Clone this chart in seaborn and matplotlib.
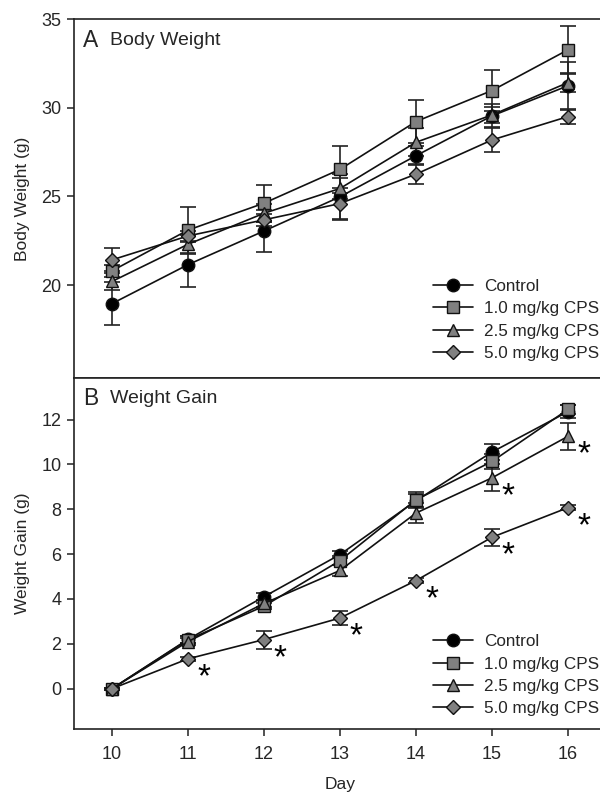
import numpy as np
import pandas as pd
import matplotlib
matplotlib.use("Agg")
import matplotlib.pyplot as plt
import seaborn as sns

# data
days = [10, 11, 12, 13, 14, 15, 16]
groups = ["Control", "1.0 mg/kg CPS", "2.5 mg/kg CPS", "5.0 mg/kg CPS"]

bw_control = [18.95, 21.15, 23.05, 24.98, 27.3, 29.55, 31.25]
bw_control_err = [1.22, 1.27, 1.17, 1.3, 0.55, 0.65, 1.35]
bw_cps10 = [20.8, 23.1, 24.62, 26.53, 29.23, 30.98, 33.28]
bw_cps10_err = [0.35, 1.32, 1.05, 1.32, 1.19, 1.17, 1.36]
bw_cps25 = [20.2, 22.3, 24.05, 25.45, 28.06, 29.6, 31.43]
bw_cps25_err = [0.5, 0.55, 0.5, 0.6, 0.8, 0.45, 0.55]
bw_cps50 = [21.42, 22.77, 23.68, 24.6, 26.26, 28.19, 29.51]
bw_cps50_err = [0.65, 0.3, 0.35, 0.9, 0.57, 0.7, 0.4]

wg_control = [0, 2.2, 4.1, 5.98, 8.38, 10.55, 12.35]
wg_control_err = [0.05, 0.15, 0.15, 0.15, 0.3, 0.37, 0.3]
wg_cps10 = [0, 2.18, 3.68, 5.71, 8.42, 10.13, 12.45]
wg_cps10_err = [0.05, 0.15, 0.15, 0.2, 0.35, 0.35, 0.2]
wg_cps25 = [0, 2.1, 3.8, 5.27, 7.83, 9.4, 11.25]
wg_cps25_err = [0.05, 0.15, 0.15, 0.25, 0.45, 0.6, 0.6]
wg_cps50 = [0, 1.33, 2.19, 3.15, 4.82, 6.75, 8.07]
wg_cps50_err = [0.05, 0.1, 0.4, 0.3, 0.1, 0.37, 0.1]

# significant days (asterisks) in panel B
sig_cps25 = [15, 16]
sig_cps50 = [11, 12, 13, 14, 15, 16]

sns.set_style("ticks")
plt.rcParams["font.family"] = ["Liberation Sans", "DejaVu Sans"]

markers = ["o", "s", "^", "D"]
faces = ["black", "#808080", "#808080", "#808080"]
msizes = [9, 8.3, 9.2, 7.5]


def draw_panel(ax, values, errors):
    for g, m, fc, ms, v, e in zip(groups, markers, faces, msizes, values, errors):
        df = pd.DataFrame({"Day": days, "val": v})
        ax.errorbar(days, v, yerr=e, fmt="none", ecolor="#222222",
                    elinewidth=1.2, capsize=5.5, capthick=1.2, zorder=2)
        sns.lineplot(data=df, x="Day", y="val", ax=ax, color="#111111",
                     lw=1.2, marker=m, markersize=ms, markerfacecolor=fc,
                     markeredgecolor="#111111", markeredgewidth=1.0,
                     label=g, zorder=3)
    leg = ax.legend(frameon=False, fontsize=12.3, handlelength=2.34,
                    handletextpad=0.64, labelspacing=0.43, borderpad=0,
                    borderaxespad=0, loc="upper left")
    return leg


fig = plt.figure(figsize=(6, 7.92), dpi=100)
ax1 = fig.add_axes([0.1233, 0.5227, 0.8867, 0.4529])
ax2 = fig.add_axes([0.1233, 0.0795, 0.8867, 0.4432])

leg1 = draw_panel(ax1, [bw_control, bw_cps10, bw_cps25, bw_cps50],
                  [bw_control_err, bw_cps10_err, bw_cps25_err, bw_cps50_err])
leg1.set_bbox_to_anchor((0.7217, 0.6478), transform=fig.transFigure)

leg2 = draw_panel(ax2, [wg_control, wg_cps10, wg_cps25, wg_cps50],
                  [wg_control_err, wg_cps10_err, wg_cps25_err, wg_cps50_err])
leg2.set_bbox_to_anchor((0.7217, 0.1993), transform=fig.transFigure)

# asterisks for significance
for sig, vals in [(sig_cps25, wg_cps25), (sig_cps50, wg_cps50)]:
    for d in sig:
        ax2.annotate("*", xy=(d, vals[days.index(d)]), xytext=(11.5, -13.5),
                     textcoords="offset points", fontsize=24,
                     ha="center", va="center", color="black")

for ax in (ax1, ax2):
    ax.set_xlim(9.5, 16.5)
    for s in ax.spines.values():
        s.set_linewidth(1.2)
        s.set_color("#222222")
    ax.tick_params(direction="out", length=5, width=1.1, labelsize=13,
                   color="#222222", pad=4)

ax1.set_ylim(14.75, 35)
ax1.set_yticks([20, 25, 30, 35])
ax1.set_xticks([])
ax1.set_xlabel("")
ax1.set_ylabel("Body Weight (g)", fontsize=12.5, labelpad=8)

ax2.set_ylim(-1.8, 13.85)
ax2.set_yticks([0, 2, 4, 6, 8, 10, 12])
ax2.set_xticks(days)
ax2.tick_params(axis="x", pad=7)
ax2.set_xlabel("Day", fontsize=12.5, labelpad=10)
ax2.set_ylabel("Weight Gain (g)", fontsize=12.5, labelpad=8)

for ax, letter, title in [(ax1, "A", "Body Weight"), (ax2, "B", "Weight Gain")]:
    ax.text(0.017, 0.974, letter, transform=ax.transAxes, fontsize=16.5,
            va="top", ha="left")
    ax.text(0.068, 0.966, title, transform=ax.transAxes, fontsize=14,
            va="top", ha="left")

fig.savefig("out.png", dpi=100)
